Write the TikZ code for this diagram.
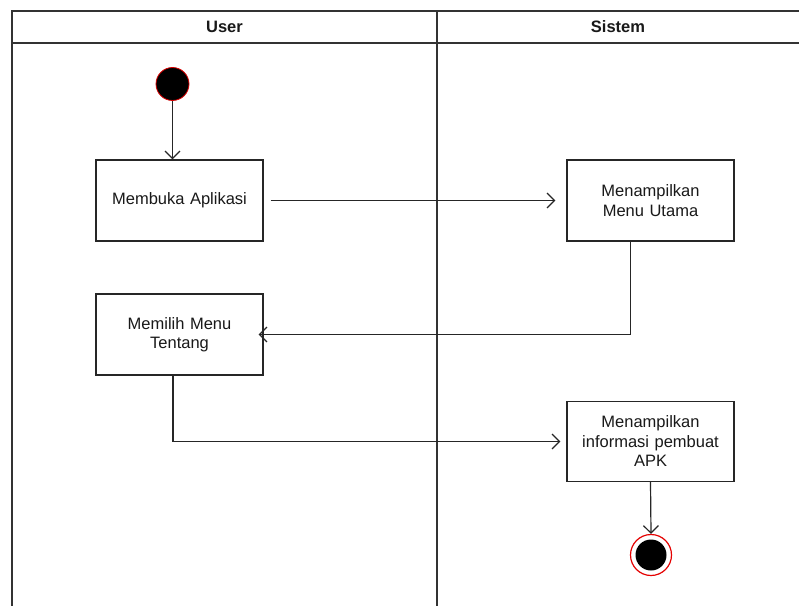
\documentclass[tikz,border=0pt]{standalone}
\usepackage{fontspec}
\setmainfont{Liberation Sans}
\usetikzlibrary{arrows.meta,calc}
\begin{document}
\begin{tikzpicture}[x=1pt,y=1pt,
  lane/.style={draw=black!80,line width=1.4pt},
  act/.style={draw=black!85,line width=1.2pt,minimum width=167pt,minimum height=81pt,
    align=center,text width=150pt,font=\fontsize{16.5}{19.5}\selectfont,text=black!90,inner sep=0pt},
  flow/.style={draw=black!85,line width=1.2pt,-{Straight Barb[length=7.5pt,width=15pt,line width=1.2pt]}},
  hdr/.style={font=\bfseries\fontsize{16.5}{19.5}\selectfont,text=black!90}]
\useasboundingbox (0,0) rectangle (799,606);
\fill[white] (0,0) rectangle (799,606);

% swimlane frame
\draw[lane] (799,595) -- (12,595) -- (12,0);
\draw[lane] (12,563) -- (799,563);
\draw[lane] (437,595) -- (437,0);
\node[hdr] (hUser) at (224.5,579) {User};
\node[hdr] (hSistem) at (618,579) {Sistem};

% initial state
\node[circle,fill=black,draw=red!85!black,line width=0.8pt,minimum size=33pt,inner sep=0pt] (start) at (172.5,522) {};

% activities
\node[act] (b1) at (179.5,405.5) {Membuka Aplikasi};
\node[act] (b2) at (650.5,405.5) {Menampilkan\\Menu Utama};
\node[act] (b3) at (179.5,271.5) {Memilih Menu\\Tentang};
\node[act,minimum height=80pt] (b4) at (650.5,164.5) {Menampilkan\\informasi pembuat\\APK};

% final state
\node[circle,draw=red!90!black,line width=1.2pt,fill=white,minimum size=41pt,inner sep=0pt] (end) at (651,51) {};
\node[circle,fill=black,minimum size=31pt,inner sep=0pt] (endDot) at (end.center) {};

% transitions
\draw[flow] (start.south) -- (start |- b1.north);
\draw[flow,shorten <=7pt,shorten >=11pt] (b1.east) -- (b2.west);
\coordinate (b2out) at ($(b2.south)+(-20,0)$);
\draw[flow,shorten >=-5pt] (b2out) |- (b3.east);
\coordinate (b3out) at ($(b3.south)+(-6.5,0)$);
\draw[flow,shorten >=6pt] (b3out) |- (b4.west);
\draw[flow] (b4.south) -- (end.north);
\end{tikzpicture}
\end{document}
